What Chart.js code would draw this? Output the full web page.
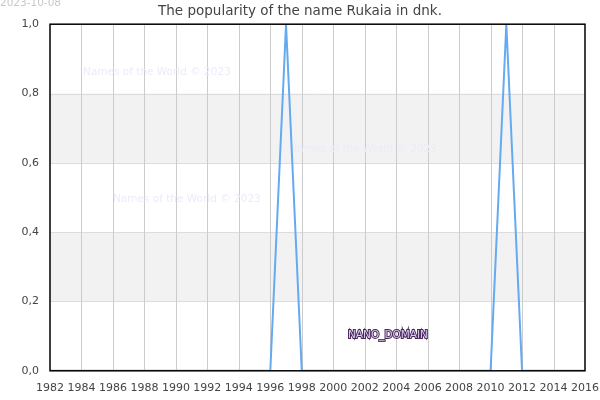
<!DOCTYPE html>
<html>
<head>
<meta charset="utf-8">
<script src="https://cdn.jsdelivr.net/npm/chart.js@4"></script>
<style>
  html, body { margin: 0; padding: 0; background: #fff; }
  #wrap { width: 600px; height: 400px; position: relative; }
</style>
</head>
<body>
<div id="wrap"><canvas id="chart"></canvas></div>
<script>
const years = [1982,1983,1984,1985,1986,1987,1988,1989,1990,1991,1992,1993,1994,1995,1996,1997,1998,1999,2000,2001,2002,2003,2004,2005,2006,2007,2008,2009,2010,2011,2012,2013,2014,2015,2016];
const popularity = [0,0,0,0,0,0,0,0,0,0,0,0,0,0,0,1,0,0,0,0,0,0,0,0,0,0,0,0,0,1,0,0,0,0,0];
const bands = [[0.2, 0.4], [0.6, 0.8]];
const watermarks = [[1984.1, 0.86], [1997.2, 0.64], [1986.0, 0.495]];

// shaded bands, frame and the extra texts
const extras = {
  id: "extras",
  beforeDatasetsDraw(chart) {
    const { ctx, chartArea: a, scales: { x, y } } = chart;
    ctx.save();
    ctx.fillStyle = "#f2f2f2";
    bands.forEach(b => {
      const top = y.getPixelForValue(b[1]), bot = y.getPixelForValue(b[0]);
      ctx.fillRect(a.left, top, a.right - a.left, bot - top);
    });
    ctx.strokeStyle = "#dcdcdc";
    ctx.lineWidth = 1;
    bands.forEach(b => b.forEach(v => {
      const py = Math.round(y.getPixelForValue(v)) + 0.5;
      ctx.beginPath(); ctx.moveTo(a.left, py); ctx.lineTo(a.right, py); ctx.stroke();
    }));
    // vertical grid over bands
    ctx.strokeStyle = "#cccccc";
    for (let t = 1984; t < 2016; t += 2) {
      const px = Math.round(x.getPixelForValue(t)) + 0.5;
      ctx.beginPath(); ctx.moveTo(px, a.top); ctx.lineTo(px, a.bottom); ctx.stroke();
    }
    ctx.font = "10.5px 'DejaVu Sans'";
    ctx.fillStyle = "#ebebfb";
    ctx.textBaseline = "middle";
    watermarks.forEach(w => ctx.fillText("Names of the World © 2023", x.getPixelForValue(w[0]), y.getPixelForValue(w[1])));
    ctx.restore();
  },
  afterDraw(chart) {
    const { ctx, chartArea: a } = chart;
    ctx.save();
    ctx.strokeStyle = "#000";
    ctx.lineWidth = 1.5;
    ctx.strokeRect(a.left, a.top, a.right - a.left, a.bottom - a.top);
    ctx.font = "10.5px 'DejaVu Sans'";
    ctx.textBaseline = "middle";
    ctx.lineWidth = 2;
    ctx.strokeStyle = "#4a2a5a";
    ctx.strokeText("NANO_DOMAIN", 348, 335);
    ctx.fillStyle = "#d8c8f0";
    ctx.fillText("NANO_DOMAIN", 348, 335);
    ctx.fillStyle = "#c8c8c8";
    ctx.textBaseline = "top";
    ctx.fillText("2023-10-08", 0, -2);
    ctx.restore();
  }
};

new Chart(document.getElementById("chart"), {
  type: "line",
  data: {
    datasets: [{
      data: years.map((yr, i) => ({ x: yr, y: popularity[i] })),
      borderColor: "#64aaf0",
      borderWidth: 2,
      pointRadius: 0,
      tension: 0,
      fill: false
    }]
  },
  options: {
    responsive: true,
    maintainAspectRatio: false,
    animation: false,
    layout: { padding: { left: 0, right: 0, top: 0, bottom: 2 } },
    plugins: {
      legend: { display: false },
      tooltip: { enabled: false },
      title: {
        display: true,
        text: "The popularity of the name Rukaia in dnk.",
        color: "#444",
        font: { family: "DejaVu Sans", size: 13.5, weight: "normal" },
        padding: { top: 3, bottom: 5 }
      }
    },
    scales: {
      x: {
        type: "linear",
        min: 1982,
        max: 2016,
        afterFit(s) { s.paddingRight = 15; },
        ticks: { stepSize: 2, color: "#444", font: { family: "DejaVu Sans", size: 11 }, maxRotation: 0, callback: v => String(v) },
        grid: { display: false },
        border: { display: false }
      },
      y: {
        min: 0,
        max: 1,
        afterFit(s) { s.width = 50; },
        ticks: { stepSize: 0.2, color: "#444", font: { family: "DejaVu Sans", size: 11 }, callback: v => v.toFixed(1).replace(".", ",") },
        grid: { display: false },
        border: { display: false }
      }
    }
  },
  plugins: [extras]
});
</script>
</body>
</html>
